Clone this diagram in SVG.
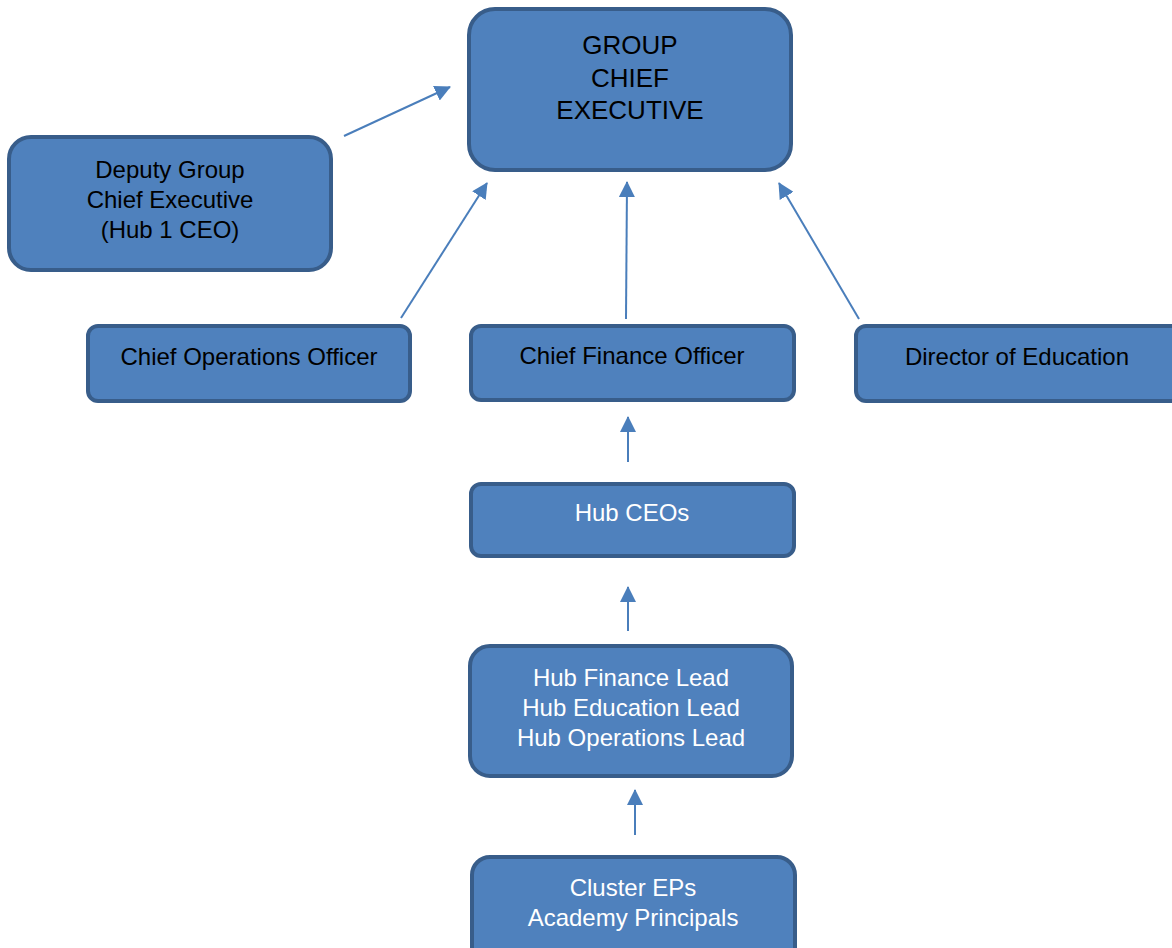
<svg xmlns="http://www.w3.org/2000/svg" width="1172" height="948" viewBox="0 0 1172 948">
<defs>
<style>
.box{fill:#4f81bd;stroke:#385d8a;stroke-width:4}
.t{font-family:"Liberation Sans",Arial,sans-serif;font-size:24px;text-anchor:middle}
.big{font-size:26px}
.dk{fill:#000}
.wh{fill:#fff}
.c{stroke:#4a7ebb;stroke-width:2;fill:none;marker-end:url(#ah)}
</style>
<marker id="ah" viewBox="0 0 16 16" refX="15" refY="8" markerWidth="16" markerHeight="16" markerUnits="userSpaceOnUse" orient="auto">
<path d="M0,0 L16,8 L0,16 z" fill="#4a7ebb"/>
</marker>
</defs>
<rect width="1172" height="948" fill="#fff"/>
<g id="connectors">
<line class="c" x1="344" y1="136" x2="450" y2="87"/>
<line class="c" x1="401" y1="318" x2="487" y2="183"/>
<line class="c" x1="626" y1="319" x2="627" y2="182"/>
<line class="c" x1="859" y1="319" x2="779" y2="183"/>
<line class="c" x1="628" y1="462" x2="628" y2="417"/>
<line class="c" x1="628" y1="631" x2="628" y2="587"/>
<line class="c" x1="635" y1="835" x2="635" y2="790"/>
</g>
<g id="gce">
<rect class="box" x="469" y="9" width="322" height="161" rx="26"/>
<text class="t big dk" x="630" y="54">GROUP</text>
<text class="t big dk" x="630" y="87">CHIEF</text>
<text class="t big dk" x="630" y="119">EXECUTIVE</text>
</g>
<g id="deputy">
<rect class="box" x="9" y="137" width="322" height="133" rx="22"/>
<text class="t dk" x="170" y="178">Deputy Group</text>
<text class="t dk" x="170" y="208">Chief Executive</text>
<text class="t dk" x="170" y="238">(Hub 1 CEO)</text>
</g>
<g id="coo">
<rect class="box" x="88" y="326" width="322" height="75" rx="10"/>
<text class="t dk" x="249" y="365">Chief Operations Officer</text>
</g>
<g id="cfo">
<rect class="box" x="471" y="326" width="323" height="74" rx="10"/>
<text class="t dk" x="632" y="364">Chief Finance Officer</text>
</g>
<g id="doe">
<rect class="box" x="856" y="326" width="330" height="75" rx="10"/>
<text class="t dk" x="1017" y="365">Director of Education</text>
</g>
<g id="hubceos">
<rect class="box" x="471" y="484" width="323" height="72" rx="10"/>
<text class="t wh" x="632" y="521">Hub CEOs</text>
</g>
<g id="hubleads">
<rect class="box" x="470" y="646" width="322" height="130" rx="20"/>
<text class="t wh" x="631" y="686">Hub Finance Lead</text>
<text class="t wh" x="631" y="716">Hub Education Lead</text>
<text class="t wh" x="631" y="746">Hub Operations Lead</text>
</g>
<g id="cluster">
<rect class="box" x="472" y="857" width="323" height="110" rx="18"/>
<text class="t wh" x="633" y="896">Cluster EPs</text>
<text class="t wh" x="633" y="926">Academy Principals</text>
</g>
</svg>
